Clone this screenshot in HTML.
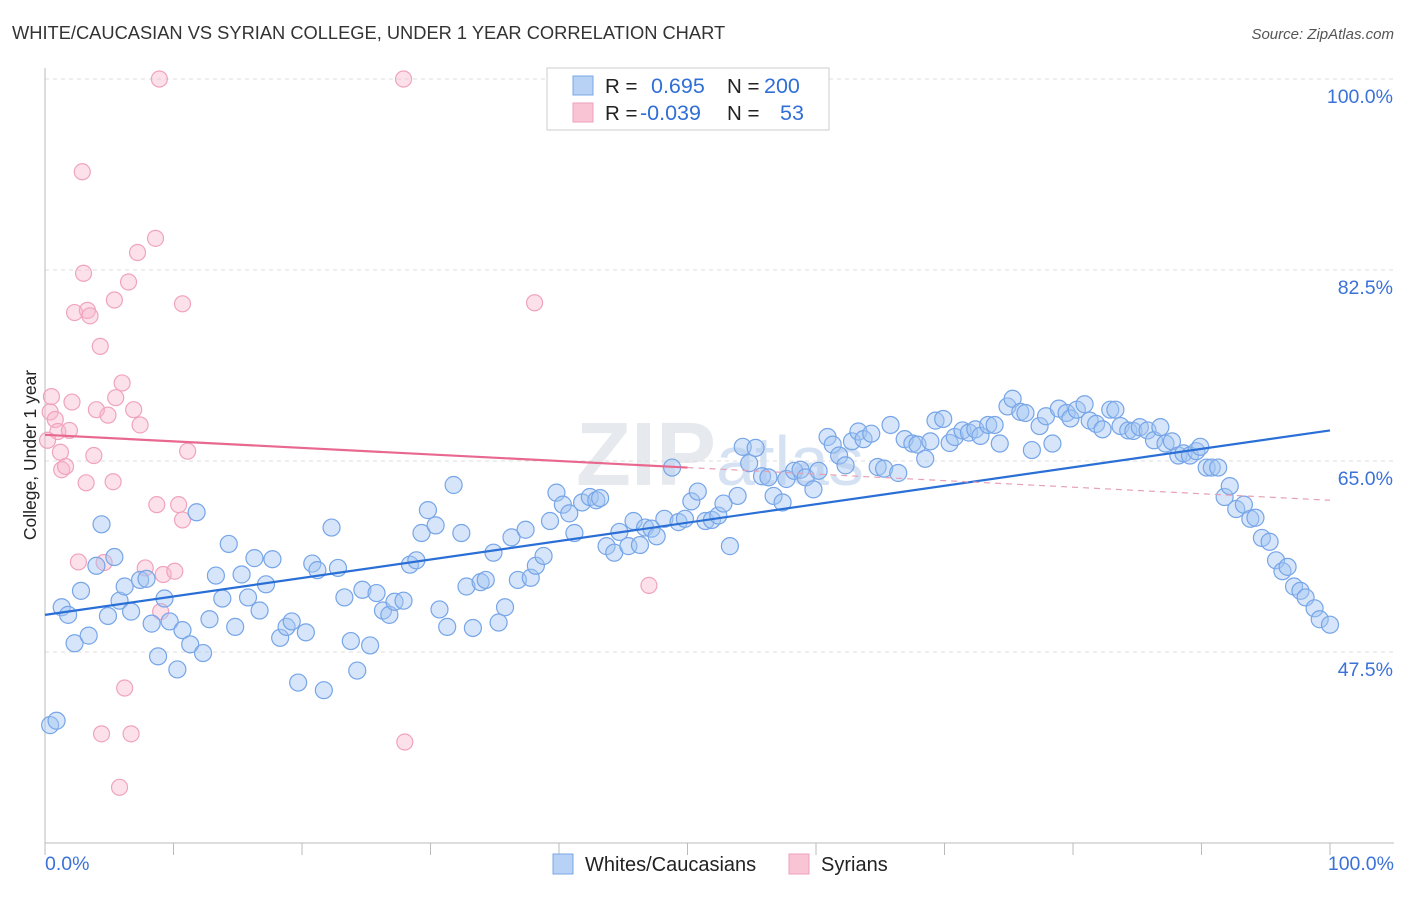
<!DOCTYPE html>
<html><head><meta charset="utf-8"><style>
body{margin:0;background:#fff;font-family:"Liberation Sans",sans-serif;}
svg text{font-family:"Liberation Sans",sans-serif;}
</style></head><body>
<svg id="c" width="1406" height="892">
<text x="12" y="39" font-size="18.3" fill="#333">WHITE/CAUCASIAN VS SYRIAN COLLEGE, UNDER 1 YEAR CORRELATION CHART</text>
<text x="1394" y="39" font-size="15" fill="#555" text-anchor="end" font-style="italic">Source: ZipAtlas.com</text>
<text x="720" y="485" font-size="90" fill="#e6e9ee" text-anchor="middle" font-weight="bold" font-family="Liberation Serif">ZIP<tspan fill="#d5e2f3" font-family="Liberation Sans" font-weight="normal" font-size="70">atlas</tspan></text>
<g id="grid"></g><g id="axes"></g><g id="pts"></g><g id="lines"></g>
<text x="36" y="455" font-size="17.5" fill="#222" text-anchor="middle" transform="rotate(-90 36 455)">College, Under 1 year</text>
<g>
<rect x="547" y="68" width="282" height="62" fill="#fff" stroke="#ccc"/>
<rect x="573" y="76" width="20" height="19" fill="#b8d2f5" stroke="#7aa7e6"/>
<rect x="573" y="103" width="20" height="19" fill="#f9c4d4" stroke="#f0a0bb"/>
<text x="605" y="93" font-size="20.5" fill="#222">R = </text><text x="651" y="93" font-size="21.5" fill="#2f6fd6">0.695</text>
<text x="727" y="93" font-size="20.5" fill="#222">N = </text><text x="764" y="93" font-size="21.5" fill="#2f6fd6">200</text>
<text x="605" y="120" font-size="20.5" fill="#222">R = </text><text x="640" y="120" font-size="21.5" fill="#2f6fd6">-0.039</text>
<text x="727" y="120" font-size="20.5" fill="#222">N = </text><text x="780" y="120" font-size="21.5" fill="#2f6fd6">53</text>
</g>
<g>
<rect x="553" y="854" width="20" height="20" fill="#b8d2f5" stroke="#7aa7e6"/>
<text x="585" y="871" font-size="20" fill="#222">Whites/Caucasians</text>
<rect x="789" y="854" width="20" height="20" fill="#f9c4d4" stroke="#f0a0bb"/>
<text x="821" y="871" font-size="20" fill="#222">Syrians</text>
</g>
</svg>
<script>
const yTicks=[100,82.5,65,47.5];
const yTickLabels=["100.0%","82.5%","65.0%","47.5%"];
const xTickLabels=["0.0%","100.0%"];
const blueX=[0.4,0.9,1.3,1.8,2.3,2.8,3.4,4.0,4.4,4.9,5.4,5.8,6.2,6.7,7.4,7.9,8.3,8.8,9.3,9.7,10.3,10.7,11.3,11.8,12.3,12.8,13.3,13.8,14.3,14.8,15.3,15.8,16.3,16.7,17.2,17.7,18.3,18.8,19.2,19.7,20.3,20.8,21.2,21.7,22.3,22.8,23.3,23.8,24.3,24.7,25.3,25.8,26.3,26.8,27.2,27.9,28.4,28.9,29.3,29.8,30.4,30.7,31.3,31.8,32.4,32.8,33.3,33.9,34.3,34.9,35.3,35.8,36.3,36.8,37.4,37.8,38.2,38.8,39.3,39.8,40.3,40.8,41.2,41.8,42.4,42.9,43.2,43.7,44.3,44.7,45.4,45.8,46.3,46.7,47.2,47.6,48.2,48.8,49.3,49.8,50.3,50.8,51.4,51.9,52.4,52.8,53.3,53.9,54.3,54.8,55.3,55.8,56.3,56.7,57.4,57.7,58.3,58.8,59.2,59.8,60.2,60.9,61.3,61.8,62.3,62.8,63.3,63.7,64.3,64.8,65.3,65.8,66.4,66.9,67.5,67.9,68.5,68.9,69.3,69.9,70.4,70.8,71.4,71.9,72.4,72.8,73.4,73.9,74.3,74.9,75.3,75.9,76.3,76.8,77.4,77.9,78.4,78.9,79.5,79.8,80.3,80.9,81.3,81.8,82.3,82.9,83.3,83.7,84.3,84.7,85.2,85.8,86.3,86.8,87.2,87.7,88.2,88.6,89.1,89.6,89.9,90.4,90.8,91.3,91.8,92.2,92.7,93.3,93.8,94.2,94.7,95.3,95.8,96.3,96.7,97.2,97.7,98.1,98.8,99.2,100];
const blueY=[40.8,41.2,51.6,50.9,48.3,53.1,49.0,55.4,59.2,50.8,56.2,52.2,53.5,51.2,54.1,54.2,50.1,47.1,52.4,50.3,45.9,49.5,48.2,60.3,47.4,50.5,54.5,52.4,57.4,49.8,54.6,52.5,56.1,51.3,53.7,56.0,48.8,49.8,50.3,44.7,49.3,55.6,55.0,44.0,58.9,55.2,52.5,48.5,45.8,53.2,48.1,52.9,51.3,50.9,52.1,52.2,55.5,55.9,58.4,60.5,59.1,51.4,49.8,62.8,58.4,53.5,49.7,53.9,54.1,56.6,50.2,51.6,58.0,54.1,58.7,54.3,55.4,56.3,59.5,62.1,61.0,60.2,58.4,61.2,61.7,61.4,61.6,57.2,56.6,58.5,57.2,59.5,57.3,58.9,58.8,58.1,59.7,64.4,59.4,59.7,61.3,62.2,59.5,59.6,60.0,61.1,57.2,61.8,66.3,64.8,66.2,63.6,63.5,61.8,61.2,63.35,64.1,64.2,63.5,62.4,64.1,67.2,66.5,65.5,64.6,66.8,67.7,67.0,67.5,64.45,64.3,68.3,63.9,67.0,66.6,66.5,65.2,66.8,68.7,68.85,66.65,67.2,67.8,67.6,67.9,67.3,68.3,68.3,66.6,70.0,70.7,69.5,69.4,66.0,68.2,69.1,66.6,69.8,69.4,68.9,69.7,70.2,68.7,68.4,67.9,69.7,69.7,68.2,67.8,67.75,68.1,67.8,66.9,68.1,66.6,66.8,65.5,65.7,65.5,65.9,66.3,64.4,64.4,64.4,61.7,62.7,60.6,61.0,59.7,59.8,57.95,57.6,55.9,54.9,55.3,53.5,53.1,52.5,51.5,50.5,50.0];
const pinkX=[0.4,0.5,0.8,1.0,1.2,1.3,1.6,1.9,2.1,2.3,2.6,2.9,3.0,3.2,3.3,3.5,3.8,4.0,4.3,4.4,4.6,4.9,5.3,5.4,5.5,5.8,6.0,6.2,6.5,6.7,6.9,7.2,7.4,7.8,8.6,8.7,8.9,9.0,9.2,10.1,10.4,10.7,10.7,11.1,27.9,28.0,38.1,47.0,0.2];
const pinkY=[69.5,70.9,68.8,67.7,65.8,64.2,64.5,67.8,70.4,78.6,55.75,91.5,82.2,63.0,78.8,78.3,65.5,69.7,75.5,40.0,55.7,69.2,63.1,79.75,70.8,35.1,72.15,44.2,81.4,40.0,69.7,84.1,68.3,55.2,85.4,61.0,100,51.2,54.6,54.9,61.0,79.4,59.6,65.9,100,39.25,79.5,53.6,66.9];
const blueTrend=[50.9,67.8];
const pinkTrend=[67.4,61.4];
const pinkSolidEnd=50;

const X=v=>45+v*12.85;
const Y=v=>79+(100-v)*10.914;
const NS="http://www.w3.org/2000/svg";
function mk(tag,attrs,parent){const e=document.createElementNS(NS,tag);for(const k in attrs)e.setAttribute(k,attrs[k]);document.getElementById(parent).appendChild(e);return e;}

yTicks.forEach((t,i)=>{
  const g=mk('line',{x1:45,x2:1394,y1:Y(t),y2:Y(t),stroke:'#ddd','stroke-dasharray':'4 4'},'grid');
  
  
  const l=mk('text',{x:1393,y:Y(t)+24,'font-size':19.5,fill:'#3b72d8','text-anchor':'end'},'grid');
  l.textContent=yTickLabels[i];
  
  
});
const ax=mk('line',{x1:45,x2:1394,y1:843,y2:843,stroke:'#bbb'},'axes');


const ay=mk('line',{x1:45,x2:45,y1:68,y2:843,stroke:'#bbb'},'axes');


for(let i=0;i<=10;i++){
  const t=mk('line',{x1:X(i*10),x2:X(i*10),y1:843,y2:855,stroke:'#bbb'},'axes');
  
  
}
[[0,'start',45],[100,'end',1394]].forEach((d,i)=>{
  const t=mk('text',{x:d[2],y:870,'font-size':19.5,fill:'#3b72d8','text-anchor':d[1]},'axes');
  t.textContent=xTickLabels[i];
  
  
});
pinkX.forEach((x,i)=>{
  const c=mk('circle',{cx:X(x),cy:Y(pinkY[i]),r:8,fill:'rgba(247,180,202,0.4)',stroke:'#f0a3bd','stroke-width':1.2},'pts');
  
  
});
blueX.forEach((x,i)=>{
  const c=mk('circle',{cx:X(x),cy:Y(blueY[i]),r:8.5,fill:'rgba(165,198,242,0.45)',stroke:'#76a5e8','stroke-width':1.2},'pts');
  
  
});
const bl=mk('line',{x1:X(0),y1:Y(blueTrend[0]),x2:X(100),y2:Y(blueTrend[1]),stroke:'#2a6fd6','stroke-width':2.2},'lines');


const pMid=pinkTrend[0]+(pinkTrend[1]-pinkTrend[0])*pinkSolidEnd/100;
const pl=mk('line',{x1:X(0),y1:Y(pinkTrend[0]),x2:X(pinkSolidEnd),y2:Y(pMid),stroke:'#e8688f','stroke-width':2.2},'lines');


const pd=mk('line',{x1:X(pinkSolidEnd),y1:Y(pMid),x2:X(100),y2:Y(pinkTrend[1]),stroke:'#e8a0b5','stroke-width':1.2,'stroke-dasharray':'6 5'},'lines');


</script>
</body></html>
